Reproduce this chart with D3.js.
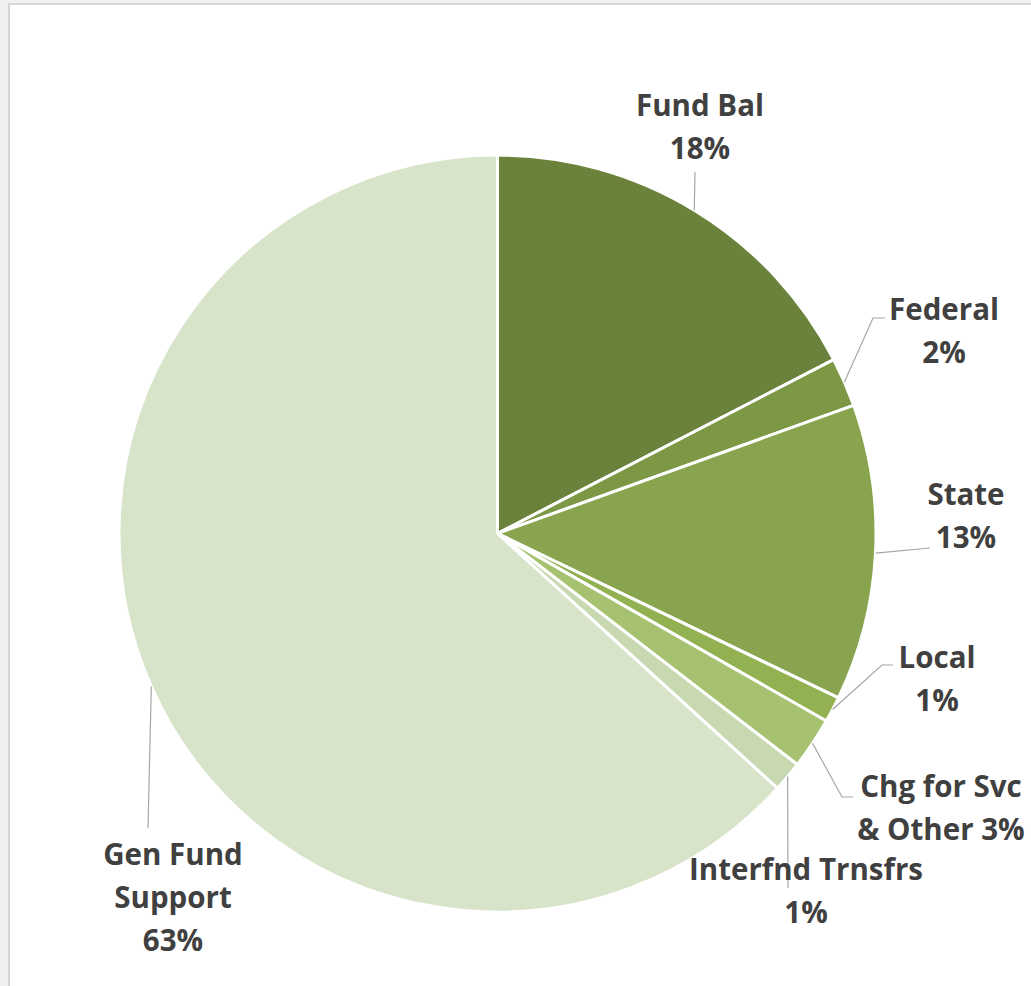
<!DOCTYPE html>
<html>
<head>
<meta charset="utf-8">
<script src="https://cdn.jsdelivr.net/npm/d3@7"></script>
<style>
  html, body { margin: 0; padding: 0; background: #f0f0f0; }
  svg { display: block; }
  .lbl { font-family: "Open Sans", Lato, sans-serif; font-weight: bold; font-size: 29.5px; fill: #404040; }
</style>
</head>
<body>
<div id="chart"></div>
<script>
// data, clockwise from 12 o'clock
var categories = ['Fund Bal', 'Federal', 'State', 'Local', 'Chg for Svc & Other', 'Interfnd Trnsfrs', 'Gen Fund Support'];
var values = [17.4, 2.1, 12.65, 1.1, 2.2, 1.3, 63.25];
var labelLines = [
    ['Fund Bal', '18%'],
    ['Federal', '2%'],
    ['State', '13%'],
    ['Local', '1%'],
    ['Chg for Svc', '& Other 3%'],
    ['Interfnd Trnsfrs', '1%'],
    ['Gen Fund', 'Support', '63%']
];

var width = 1031,
    height = 986,
    cx = 497.5,
    cy = 533.5,
    radius = 378.5,
    colors = ['#6a823b', '#7d9845', '#89a44f', '#92b150', '#a6c270', '#c8d8b1', '#d8e4ca'],
    lineH = 43
;

// label layout: text centre x, first baseline y, leader elbow points (label side)
var layout = [
    { x: 700, y: 116, leader: [[695, 172]] },
    { x: 944, y: 320, leader: [[873, 318], [885, 318]] },
    { x: 966, y: 505, leader: [[930, 548]] },
    { x: 937, y: 668, leader: [[882, 665], [893, 665]] },
    { x: 941, y: 797, leader: [[842, 797], [853, 797]] },
    { x: 806, y: 880, leader: [[788, 888]] },
    { x: 173, y: 865, leader: [[148, 828]] }
];

var svg = d3.select('#chart')
    .append('svg')
    .attr('width', width)
    .attr('height', height)
;

svg.append('rect')
    .attr('x', 9)
    .attr('y', 4)
    .attr('width', width)
    .attr('height', height)
    .style('fill', '#ffffff')
    .style('stroke', '#d6d6d6')
    .style('stroke-width', 2)
;

var pie = d3.pie()
    .sort(null)
    .value(function(d) { return d; })
;

var arc = d3.arc()
    .innerRadius(0)
    .outerRadius(radius)
;

var arcs = pie(values);

var container = svg.append('g')
    .attr('transform', 'translate(' + cx + ',' + cy + ')')
;

container.selectAll('path')
    .data(arcs)
    .enter()
    .append('path')
    .attr('d', arc)
    .style('fill', function(d) { return colors[d.index]; })
    .style('stroke', '#ffffff')
    .style('stroke-width', 3)
    .style('stroke-linejoin', 'round')
;

// leader lines from the middle of each slice's rim to its label
var line = d3.line();
svg.selectAll('path.leader')
    .data(arcs)
    .enter()
    .append('path')
    .attr('class', 'leader')
    .attr('d', function(d, i) {
        var a = (d.startAngle + d.endAngle) / 2;
        var pts = [[cx + radius * Math.sin(a), cy - radius * Math.cos(a)]];
        return line(pts.concat(layout[i].leader));
    })
    .style('fill', 'none')
    .style('stroke', '#a6a6a6')
    .style('stroke-width', 1.2)
;

var labels = svg.selectAll('text.lbl')
    .data(categories)
    .enter()
    .append('text')
    .attr('class', 'lbl')
    .attr('text-anchor', 'middle')
;

labels.selectAll('tspan')
    .data(function(d, i) {
        return labelLines[i].map(function(t, j) { return { t: t, i: i, j: j }; });
    })
    .enter()
    .append('tspan')
    .attr('x', function(d) { return layout[d.i].x; })
    .attr('y', function(d) { return layout[d.i].y + d.j * lineH; })
    .text(function(d) { return d.t; })
;
</script>
</body>
</html>
